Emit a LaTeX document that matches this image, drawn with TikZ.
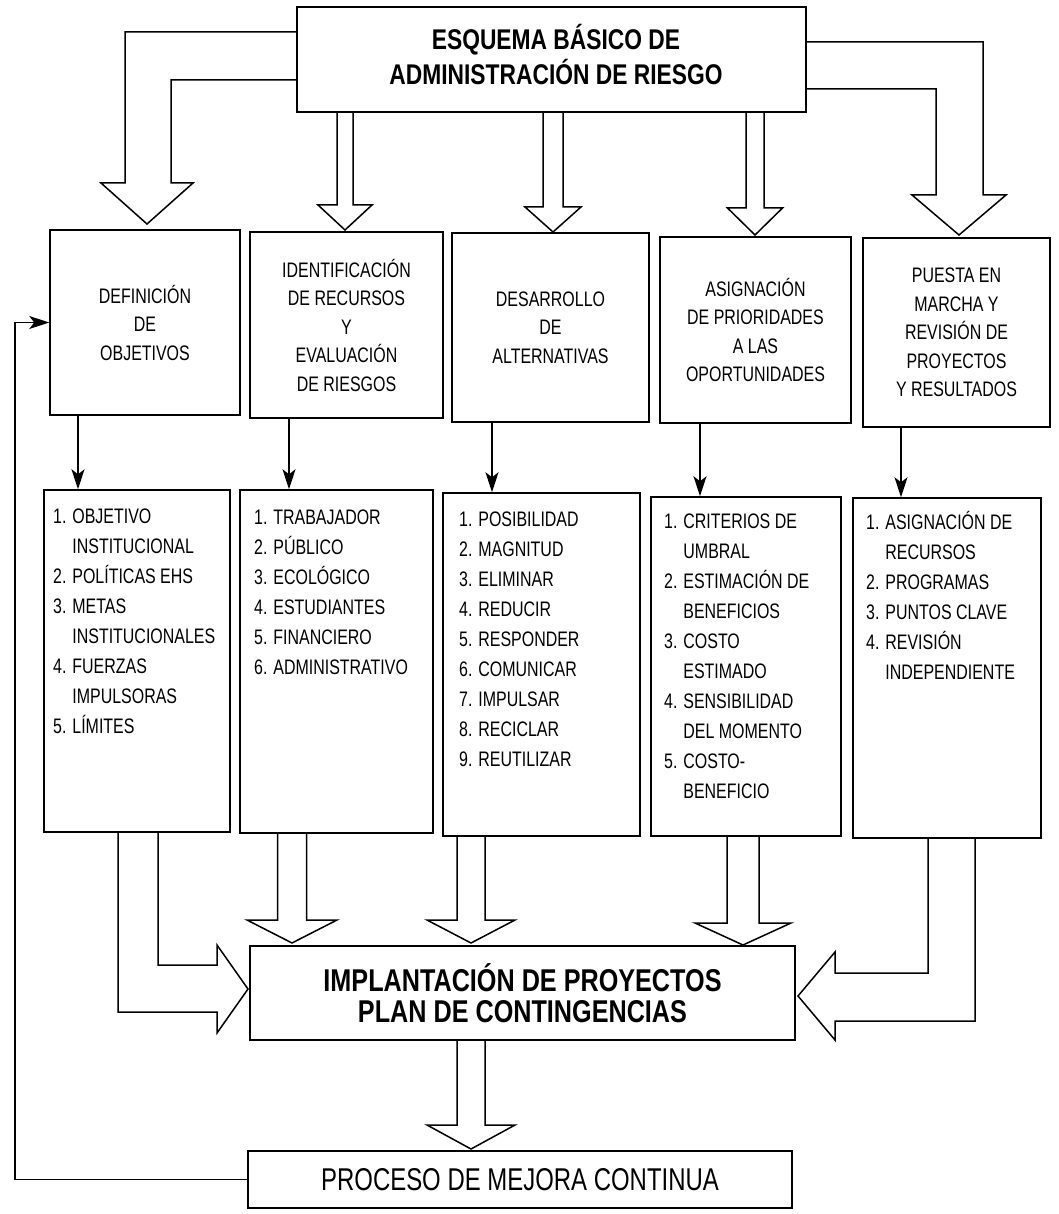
\documentclass[tikz,border=0pt]{standalone}
\usepackage{fontspec}
\setmainfont{Liberation Sans}[FakeStretch=0.76,BoldFeatures={FakeStretch=0.8}]
\usetikzlibrary{arrows.meta}
\tikzset{
  box/.style={draw, line width=1.5pt, inner sep=0pt, fill=white},
  head/.style={align=center, font=\fontsize{21}{28.5}\selectfont},
  lst/.style={align=left, anchor=north west, inner sep=0pt, font=\fontsize{21}{30}\selectfont},
  thinarr/.style={line width=1.5pt, -{Stealth[length=20pt,width=13pt,inset=5pt]}},
  blk/.style={line width=1.5pt, line join=miter},
}
% \bx[options]{name}{x1}{y1}{x2}{y2}{text}
\newcommand\bx[7][]{\node[box,#1,minimum width={(#5-#3)*1pt},minimum height={(#6-#4)*1pt}] (#2) at ({(#3+#5)/2},{(#4+#6)/2}) {#7};}
% \vblk{xc}{ytop}{ybase}{ytip}{shaft half}{head half}
\newcommand\vblk[6]{\draw[blk] ({#1-#5},#2) -- ({#1-#5},#3) -- ({#1-#6},#3) -- (#1,#4) -- ({#1+#6},#3) -- ({#1+#5},#3) -- ({#1+#5},#2);}
\begin{document}
\begin{tikzpicture}[x=1pt,y=-1pt]
\fill[white] (0,0) rectangle (1058,1214);
\useasboundingbox (0,0) rectangle (1058,1214);

% title
\bx{T}{297}{7}{806}{112}{}
\node[align=center,font=\bfseries\fontsize{28.5}{35}\selectfont] (tt) at (556,55) {ESQUEMA BÁSICO DE\\ADMINISTRACIÓN DE RIESGO};

% row 2
\bx[head]{D1}{50}{230}{240}{415}{DEFINICIÓN\\DE\\OBJETIVOS}
\bx[head]{D2}{250}{232}{443}{418}{IDENTIFICACIÓN\\DE RECURSOS\\Y\\EVALUACIÓN\\DE RIESGOS}
\bx[head]{D3}{452}{233}{649}{422}{DESARROLLO\\DE\\ALTERNATIVAS}
\bx[head]{D4}{660}{237}{851}{423}{ASIGNACIÓN\\DE PRIORIDADES\\A LAS\\OPORTUNIDADES}
\bx[head]{D5}{863}{238}{1050}{427}{PUESTA EN\\MARCHA Y\\REVISIÓN DE\\PROYECTOS\\Y RESULTADOS}

% row 3 boxes
\bx{L1}{44}{490}{230}{832}{}
\bx{L2}{240}{490}{433}{833}{}
\bx{L3}{443}{493}{640}{836}{}
\bx{L4}{651}{497}{841}{836}{}
\bx{L5}{853}{498}{1041}{838}{}

% row 3 lists
\node[lst] (lt1) at (53,504) {\rule{0pt}{19pt}1. OBJETIVO\\ \hphantom{1. }INSTITUCIONAL\\ 2. POLÍTICAS EHS\\ 3. METAS\\ \hphantom{3. }INSTITUCIONALES\\ 4. FUERZAS\\ \hphantom{4. }IMPULSORAS\\ 5. LÍMITES};
\node[lst] (lt2) at (254,505) {\rule{0pt}{19pt}1. TRABAJADOR\\ 2. PÚBLICO\\ 3. ECOLÓGICO\\ 4. ESTUDIANTES\\ 5. FINANCIERO\\ 6. ADMINISTRATIVO};
\node[lst] (lt3) at (459,507) {\rule{0pt}{19pt}1. POSIBILIDAD\\ 2. MAGNITUD\\ 3. ELIMINAR\\ 4. REDUCIR\\ 5. RESPONDER\\ 6. COMUNICAR\\ 7. IMPULSAR\\ 8. RECICLAR\\ 9. REUTILIZAR};
\node[lst] (lt4) at (664,509) {\rule{0pt}{19pt}1. CRITERIOS DE\\ \hphantom{1. }UMBRAL\\ 2. ESTIMACIÓN DE\\ \hphantom{2. }BENEFICIOS\\ 3. COSTO\\ \hphantom{3. }ESTIMADO\\ 4. SENSIBILIDAD\\ \hphantom{4. }DEL MOMENTO\\ 5. COSTO-\\ \hphantom{5. }BENEFICIO};
\node[lst] (lt5) at (866,510) {\rule{0pt}{19pt}1. ASIGNACIÓN DE\\ \hphantom{1. }RECURSOS\\ 2. PROGRAMAS\\ 3. PUNTOS CLAVE\\ 4. REVISIÓN\\ \hphantom{4. }INDEPENDIENTE};

% bottom boxes
\bx[align=center,font=\bfseries\fontsize{31.5}{31}\selectfont]{I}{250}{946}{795}{1040}{IMPLANTACIÓN DE PROYECTOS\\PLAN DE CONTINGENCIAS}
\bx[align=center,font=\fontsize{31.5}{30}\selectfont]{P}{248}{1151}{792}{1208}{PROCESO DE MEJORA CONTINUA}

% thin arrows row2 -> row3
\coordinate (a1) at (78,0);
\coordinate (a2) at (289,0);
\coordinate (a3) at (492,0);
\coordinate (a4) at (700,0);
\coordinate (a5) at (901,0);
\draw[thinarr] (D1.south -| a1) -- (L1.north -| a1);
\draw[thinarr] (D2.south -| a2) -- (L2.north -| a2);
\draw[thinarr] (D3.south -| a3) -- (L3.north -| a3);
\draw[thinarr] (D4.south -| a4) -- (L4.north -| a4);
\draw[thinarr] (D5.south -| a5) -- (L5.north -| a5);

% feedback line
\coordinate (fb) at (15,700);
\draw[thinarr] (P.west) -| (fb) |- (D1.west);

% hollow arrows from title
\draw[blk] (T.west |- 0,32) -- (125,32) -- (125,183) -- (101,183) -- (147,224) -- (193,183) -- (171,183) -- (171,80) -- (T.west |- 0,80);
\vblk{345}{112}{205}{230}{8}{27}
\vblk{553}{112}{207}{232}{10}{28}
\vblk{755}{112}{208}{235}{9}{27.5}
\draw[blk] (T.east |- 0,42) -- (983,42) -- (983,195) -- (1006,195) -- (959,235) -- (912,195) -- (936,195) -- (936,89) -- (T.east |- 0,89);

% hollow arrows into implantation box
\draw[blk] (118,832) -- (118,1012) -- (217,1012) -- (217,1033) -- (248,989) -- (217,945) -- (217,965) -- (158,965) -- (158,832);
\vblk{292}{833}{920}{943}{14.5}{45}
\vblk{471}{836}{920}{943}{14}{44}
\vblk{743}{836}{923}{945}{16}{48}
\draw[blk] (975,838) -- (975,1021) -- (835,1021) -- (835,1040) -- (798,996) -- (835,952) -- (835,973) -- (928,973) -- (928,838);

% implantation -> proceso
\vblk{471}{1040}{1125}{1149}{14}{44}
\end{tikzpicture}
\end{document}
